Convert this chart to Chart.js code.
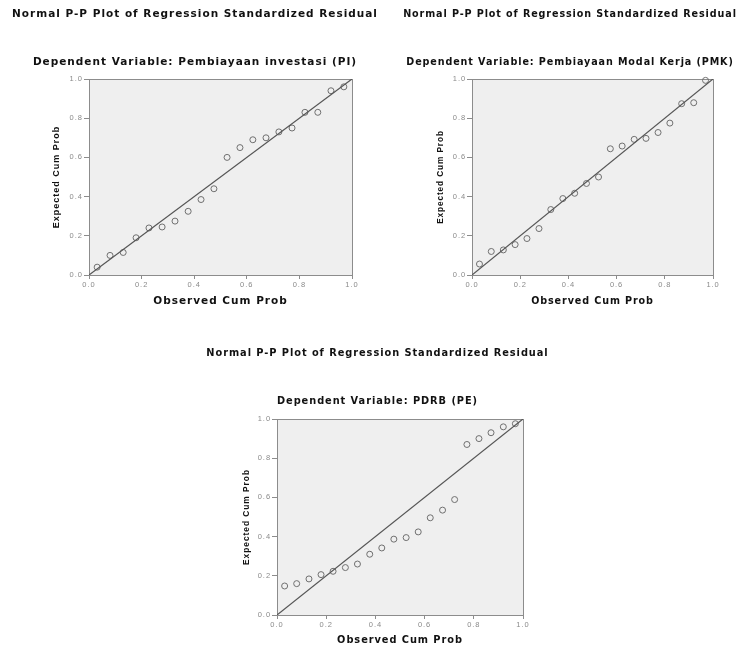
<!DOCTYPE html>
<html>
<head>
<meta charset="utf-8">
<script src="https://cdn.jsdelivr.net/npm/chart.js@4"></script>
<style>
    body { margin: 0; background: #fff; }
    #wrap { position: relative; width: 739px; height: 646px; }
    canvas { position: absolute; }
</style>
</head>
<body>
<div id="wrap">
    <canvas id="ppPI" width="390" height="310" style="left:0px;top:0px"></canvas>
    <canvas id="ppPMK" width="338" height="310" style="left:401px;top:0px"></canvas>
    <canvas id="ppPE" width="355" height="306" style="left:200px;top:340px"></canvas>
</div>
<script>
// data

const mainTitle = 'Normal P-P Plot of Regression Standardized Residual';
const xTitle = 'Observed Cum Prob';
const yTitle = 'Expected Cum Prob';
const tickValues = [0, 0.2, 0.4, 0.6, 0.8, 1.0];

const obsCumProb = [0.031, 0.080, 0.130, 0.179, 0.228, 0.278, 0.327, 0.377, 0.426, 0.475,
    0.525, 0.574, 0.623, 0.673, 0.722, 0.772, 0.821, 0.870, 0.920, 0.969];

const expPI = [0.04, 0.10, 0.115, 0.19, 0.24, 0.245, 0.275, 0.325, 0.385, 0.44,
    0.60, 0.65, 0.69, 0.70, 0.73, 0.75, 0.83, 0.83, 0.94, 0.96];
const expPMK = [0.056, 0.12, 0.128, 0.155, 0.186, 0.237, 0.334, 0.39, 0.417, 0.467,
    0.50, 0.644, 0.658, 0.692, 0.697, 0.727, 0.775, 0.874, 0.879, 0.993];
const expPE = [0.148, 0.16, 0.184, 0.206, 0.223, 0.242, 0.26, 0.31, 0.342, 0.387,
    0.395, 0.424, 0.496, 0.535, 0.589, 0.87, 0.90, 0.93, 0.96, 0.976];

// diagonal reference line
const refX = [0, 1];
const refY = [0, 1];

// fond gris + cadre du graphique
const ppFrame = {
    id: 'ppFrame',
    beforeDraw(chart, args, opts) {
        const { ctx, chartArea: a } = chart;
        ctx.letterSpacing = opts.spacing + 'px';
        ctx.save();
        ctx.fillStyle = '#efefef';
        ctx.fillRect(a.left, a.top, a.right - a.left, a.bottom - a.top);
        ctx.restore();
    },
    beforeDatasetsDraw(chart) {
        const { ctx, chartArea: a } = chart;
        ctx.save();
        ctx.strokeStyle = '#8c8c8c';
        ctx.lineWidth = 1;
        ctx.strokeRect(a.left + 0.5, a.top + 0.5, a.right - a.left, a.bottom - a.top);
        ctx.restore();
    }
};

function makePP(id, subtitle, ys, s) {
    const lh = s.font * 1.2;
    const points = obsCumProb.map((x, i) => ({ x: x, y: ys[i] }));
    const ref = refX.map((x, i) => ({ x: x, y: refY[i] }));
    const bold = { family: 'DejaVu Sans', size: s.font, weight: 'bold', lineHeight: 1.2 };
    const tickFont = { family: 'Liberation Sans', size: 7.5 };
    const axisH = s.canvasH - 275;

    return new Chart(document.getElementById(id), {
        type: 'scatter',
        data: {
            datasets: [{
                data: ref,
                showLine: true,
                borderColor: '#555',
                borderWidth: 1.2,
                pointRadius: 0
            }, {
                data: points,
                pointRadius: 3,
                pointBorderWidth: 1,
                borderColor: '#707070',
                backgroundColor: 'rgba(0,0,0,0)',
                clip: false
            }]
        },
        plugins: [ppFrame],
        options: {
            responsive: false,
            animation: false,
            events: [],
            layout: { padding: 0 },
            plugins: {
                legend: { display: false },
                tooltip: { enabled: false },
                ppFrame: { spacing: s.spacing },
                title: {
                    display: true,
                    text: mainTitle,
                    color: '#111',
                    font: bold,
                    padding: { top: s.titleY - lh / 2, bottom: 0 }
                },
                subtitle: {
                    display: true,
                    text: subtitle,
                    color: '#111',
                    font: bold,
                    padding: { top: s.subY - s.titleY - lh, bottom: 79 - s.subY - lh / 2 }
                }
            },
            scales: {
                x: {
                    type: 'linear',
                    min: 0,
                    max: 1,
                    afterBuildTicks: (sc) => { sc.ticks = tickValues.map(v => ({ value: v })); },
                    afterFit: (sc) => { sc.height = axisH; },
                    grid: { display: true, drawOnChartArea: false, drawTicks: true, tickLength: 4, color: '#8c8c8c' },
                    border: { display: true, color: '#8c8c8c' },
                    ticks: { color: '#8a8a8a', font: tickFont, padding: 1, maxRotation: 0, callback: (v) => v.toFixed(1) },
                    title: {
                        display: true,
                        text: xTitle,
                        color: '#111',
                        font: bold,
                        padding: { top: 0, bottom: s.canvasH - s.xTitleY - lh / 2 }
                    }
                },
                y: {
                    type: 'linear',
                    min: 0,
                    max: 1,
                    afterBuildTicks: (sc) => { sc.ticks = tickValues.map(v => ({ value: v })); },
                    afterFit: (sc) => { sc.width = s.yAxisW; },
                    grid: { display: true, drawOnChartArea: false, drawTicks: true, tickLength: 5, color: '#8c8c8c' },
                    border: { display: true, color: '#8c8c8c' },
                    ticks: { color: '#8a8a8a', font: tickFont, padding: 1, callback: (v) => v.toFixed(1) },
                    title: {
                        display: true,
                        text: yTitle,
                        color: '#111',
                        font: { family: 'Liberation Sans', size: s.font * 0.86, weight: 'bold', lineHeight: 1.2 },
                        padding: { top: s.yTitleX - lh / 2, bottom: 0 }
                    }
                },
                pad: {
                    position: 'right',
                    display: true,
                    grid: { display: false },
                    border: { display: false },
                    ticks: { display: false },
                    afterFit: (sc) => { sc.width = s.rightW; }
                }
            }
        }
    });
}

makePP('ppPI', 'Dependent Variable: Pembiayaan investasi (PI)', expPI,
    { font: 10.5, spacing: 1, yAxisW: 89, rightW: 38, yTitleX: 57, titleY: 14, subY: 62, canvasH: 310, xTitleY: 301 });
makePP('ppPMK', 'Dependent Variable: Pembiayaan Modal Kerja (PMK)', expPMK,
    { font: 9.6, spacing: 0.9, yAxisW: 71, rightW: 26, yTitleX: 41, titleY: 14, subY: 62, canvasH: 310, xTitleY: 301 });
makePP('ppPE', 'Dependent Variable: PDRB (PE)', expPE,
    { font: 9.8, spacing: 0.95, yAxisW: 77, rightW: 32, yTitleX: 48, titleY: 13, subY: 61, canvasH: 306, xTitleY: 300 });
</script>
</body>
</html>
